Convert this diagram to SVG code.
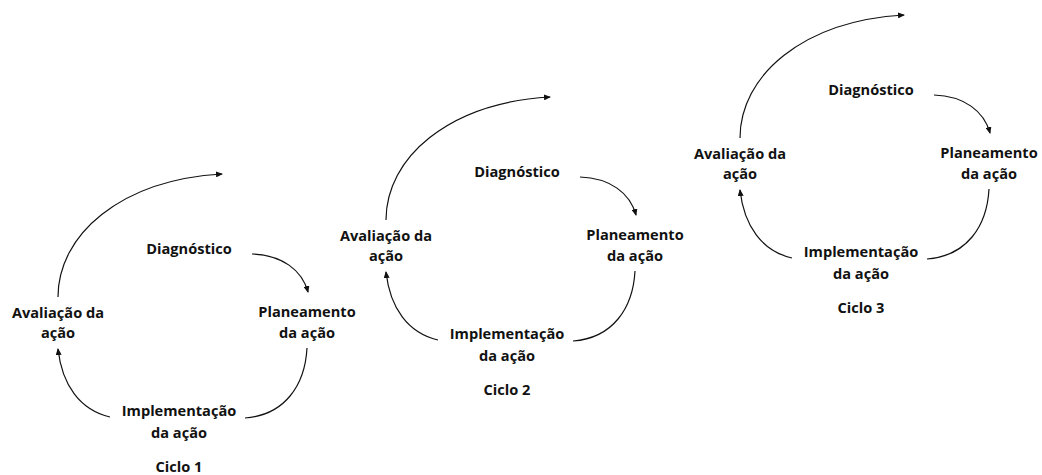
<svg xmlns="http://www.w3.org/2000/svg" width="1042" height="475" viewBox="0 0 1042 475">
  <style>
    text { font-family: "Open Sans", "Liberation Sans", sans-serif; font-weight: 700; font-size: 14.6px; fill: #111; text-anchor: middle; }
    .arc { fill: none; stroke: #111; stroke-width: 1.2; }
    .arr { marker-end: url(#head); }
  </style>
  <defs>
    <marker id="head" markerWidth="7" markerHeight="6" refX="6" refY="3" orient="auto" markerUnits="userSpaceOnUse">
      <path d="M0,0 L7,3 L0,6 Z" fill="#111"/>
    </marker>
    <!-- one research cycle, drawn in cycle-1 coordinates -->
    <g id="cycle-arcs">
      <path class="arc arr" d="M58,297 C58,235 120,180 222,174"/>
      <path class="arc arr" d="M252,254 C282,255 302,270 308,292"/>
      <path class="arc" d="M307,348 C305,385 285,415 245,418"/>
      <path class="arc arr" d="M110,417 C80,410 62,385 58,349"/>
    </g>
  </defs>

  <!-- Ciclo 1 -->
  <g id="ciclo1">
    <g id="c1-connectors"><use href="#cycle-arcs"/></g>
    <g id="c1-diagnostico"><text x="189" y="254">Diagnóstico</text></g>
    <g id="c1-planeamento"><text x="307" y="317">Planeamento</text><text x="307" y="338">da ação</text></g>
    <g id="c1-implementacao"><text x="179" y="416">Implementação</text><text x="179" y="438">da ação</text></g>
    <g id="c1-avaliacao"><text x="58" y="318">Avaliação da</text><text x="58" y="338">ação</text></g>
    <g id="c1-label"><text x="179" y="472">Ciclo 1</text></g>
  </g>

  <!-- Ciclo 2 -->
  <g id="ciclo2" transform="translate(328,-77)">
    <g id="c2-connectors"><use href="#cycle-arcs"/></g>
    <g id="c2-diagnostico"><text x="189" y="254">Diagnóstico</text></g>
    <g id="c2-planeamento"><text x="307" y="317">Planeamento</text><text x="307" y="338">da ação</text></g>
    <g id="c2-implementacao"><text x="179" y="416">Implementação</text><text x="179" y="438">da ação</text></g>
    <g id="c2-avaliacao"><text x="58" y="318">Avaliação da</text><text x="58" y="338">ação</text></g>
    <g id="c2-label"><text x="179" y="472">Ciclo 2</text></g>
  </g>

  <!-- Ciclo 3 -->
  <g id="ciclo3" transform="translate(682,-159)">
    <g id="c3-connectors"><use href="#cycle-arcs"/></g>
    <g id="c3-diagnostico"><text x="189" y="254">Diagnóstico</text></g>
    <g id="c3-planeamento"><text x="307" y="317">Planeamento</text><text x="307" y="338">da ação</text></g>
    <g id="c3-implementacao"><text x="179" y="416">Implementação</text><text x="179" y="438">da ação</text></g>
    <g id="c3-avaliacao"><text x="58" y="318">Avaliação da</text><text x="58" y="338">ação</text></g>
    <g id="c3-label"><text x="179" y="472">Ciclo 3</text></g>
  </g>
</svg>
